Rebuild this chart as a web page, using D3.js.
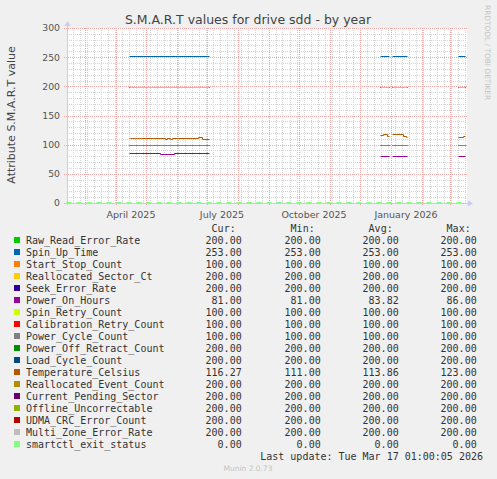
<!DOCTYPE html>
<html>
<head>
<meta charset="utf-8">
<script src="https://cdn.jsdelivr.net/npm/d3@7"></script>
<style>
  body { margin: 0; background: #f0f0f0; }
  svg text { font-family: "DejaVu Sans", sans-serif; }
  svg .mono { font-family: "DejaVu Sans Mono", monospace; font-size: 10px; fill: #333; }
</style>
</head>
<body>
<div id="chart"></div>
<script>
// legend / series
const names = ["Raw_Read_Error_Rate", "Spin_Up_Time", "Start_Stop_Count", "Reallocated_Sector_Ct",
  "Seek_Error_Rate", "Power_On_Hours", "Spin_Retry_Count", "Calibration_Retry_Count",
  "Power_Cycle_Count", "Power_Off_Retract_Count", "Load_Cycle_Count", "Temperature_Celsius",
  "Reallocated_Event_Count", "Current_Pending_Sector", "Offline_Uncorrectable",
  "UDMA_CRC_Error_Count", "Multi_Zone_Error_Rate", "smartctl_exit_status"];
const colors = ["#00cc00", "#0066b3", "#ff8000", "#ffcc00", "#330099", "#990099", "#ccff00", "#ff0000",
  "#808080", "#008f00", "#00487d", "#b35a00", "#b38f00", "#6b006b", "#8fb300", "#b30000",
  "#bebebe", "#80ff80"];
const curValues = [200, 253, 100, 200, 200, 81, 100, 100, 100, 200, 200, 116.27, 200, 200, 200, 200, 200, 0];
const minValues = [200, 253, 100, 200, 200, 81, 100, 100, 100, 200, 200, 111, 200, 200, 200, 200, 200, 0];
const avgValues = [200, 253, 100, 200, 200, 83.82, 100, 100, 100, 200, 200, 113.86, 200, 200, 200, 200, 200, 0];
const maxValues = [200, 253, 100, 200, 200, 86, 100, 100, 100, 200, 200, 123, 200, 200, 200, 200, 200, 0];

// series that stay flat: level drawn over the periods with data (null = own point list)
const flatLevels = [200, 253, 100, 200, 200, null, 100, 100, 100, 200, 200, null, 200, 200, 200, 200, 200, null];
const dataPeriods = [
  ["2025-04-15", "2025-07-04"],
  ["2025-12-22", "2025-12-31"],
  ["2026-01-03", "2026-01-18"],
  ["2026-03-10", "2026-03-17"]
];
const powerOnHours = [
  ["2025-04-15", 86], ["2025-05-16", 84], ["2025-05-30", 86], ["2025-07-04", 86], ["2025-07-05", null],
  ["2025-12-22", 82], ["2025-12-31", 82], ["2026-01-01", null],
  ["2026-01-03", 81], ["2026-01-18", 81], ["2026-01-19", null],
  ["2026-03-10", 81], ["2026-03-17", 81]
];
const temperature = [
  ["2025-04-15", 112], ["2025-04-16", 113], ["2025-04-18", 112], ["2025-04-21", 113], ["2025-04-23", 112],
  ["2025-04-25", 113], ["2025-04-27", 112], ["2025-05-09", 113], ["2025-05-21", 111], ["2025-05-23", 113],
  ["2025-05-26", 111], ["2025-05-28", 113], ["2025-06-23", 114], ["2025-06-27", 111], ["2025-07-04", 111],
  ["2025-07-05", null],
  ["2025-12-22", 117], ["2025-12-25", 119], ["2025-12-29", 116], ["2025-12-31", 116], ["2026-01-01", null],
  ["2026-01-03", 119], ["2026-01-14", 116], ["2026-01-17", 114], ["2026-01-18", 114], ["2026-01-19", null],
  ["2026-03-10", 114], ["2026-03-15", 116], ["2026-03-17", 116]
];
const exitStatus = [["2025-02-11", 0], ["2026-03-18", 0]];

const yTicks = [0, 50, 100, 150, 200, 250, 300];
const yMinor = [10, 20, 30, 40, 60, 70, 80, 90, 110, 120, 130, 140, 160, 170, 180, 190,
  210, 220, 230, 240, 260, 270, 280, 290];

const margin = {top: 28, left: 67};
const plotW = 400, plotH = 175;
const start = new Date(Date.UTC(2025, 1, 11, 12));
const end = new Date(Date.UTC(2026, 2, 18, 12));
const parse = d3.utcParse("%Y-%m-%d");

const svg = d3.select("#chart").append("svg")
    .attr("width", 497)
    .attr("height", 479);

const x = d3.scaleUtc().domain([start, end]).range([0, plotW]);
const y = d3.scaleLinear().domain([0, 300]).range([plotH, 0]);
// pixel-snapped copies, rrdtool draws its grid on whole pixels
const xGrid = x.copy().interpolate(d3.interpolateRound);
const yGrid = y.copy().interpolate(d3.interpolateRound);

const g = svg.append("g")
    .attr("transform", "translate(" + margin.left + "," + margin.top + ")");

g.append("rect").attr("width", plotW).attr("height", plotH).attr("fill", "#ffffff");

// minor grid
const minorColor = "#d4d4d4", majorColor = "#f2a6a6";
g.append("g")
    .call(d3.axisLeft(yGrid).tickValues(yMinor).tickSize(-plotW).tickFormat(""))
    .call(a => a.select(".domain").remove())
    .selectAll("line").attr("stroke", minorColor).attr("stroke-dasharray", "1,1");
g.append("g")
    .call(d3.axisBottom(xGrid).tickValues(d3.utcMonday.range(start, end)).tickSize(plotH).tickFormat(""))
    .call(a => a.select(".domain").remove())
    .selectAll("line").attr("stroke", minorColor).attr("stroke-dasharray", "1,1");

// major grid
g.append("g")
    .attr("transform", "translate(-3,0)")
    .call(d3.axisLeft(yGrid).tickValues(yTicks).tickSize(-(plotW + 3)).tickFormat(""))
    .call(a => a.select(".domain").remove())
    .selectAll("line").attr("stroke", majorColor).attr("stroke-dasharray", "1,1");
g.append("g")
    .call(d3.axisBottom(xGrid).tickValues(d3.utcMonth.range(start, end)).tickSize(plotH + 3).tickFormat(""))
    .call(a => a.select(".domain").remove())
    .selectAll("line").attr("stroke", majorColor).attr("stroke-dasharray", "1,1");

// tick labels
g.append("g")
    .call(d3.axisLeft(y).tickValues(yTicks).tickSize(0).tickPadding(7))
    .call(a => a.select(".domain").remove())
    .selectAll("text")
    .attr("font-family", "DejaVu Sans").attr("font-size", "9.3px").attr("fill", "#555");

const labelMonths = d3.utcMonth.every(3).range(start, end).map(d => d3.utcDay.offset(d, 15));
g.append("g")
    .attr("transform", "translate(0," + plotH + ")")
    .call(d3.axisBottom(x).tickValues(labelMonths).tickSize(0).tickPadding(8)
        .tickFormat(d3.utcFormat("%B %Y")))
    .call(a => a.select(".domain").remove())
    .selectAll("text")
    .attr("font-family", "DejaVu Sans").attr("font-size", "9.5px").attr("fill", "#555");

// axis lines with arrows
const axisColor = "#c6cdf5";
g.append("line").attr("x1", 0.5).attr("x2", 0.5).attr("y1", plotH + 2).attr("y2", -3)
    .attr("stroke", axisColor);
g.append("line").attr("x1", -2).attr("x2", plotW + 2).attr("y1", plotH + 0.5).attr("y2", plotH + 0.5)
    .attr("stroke", axisColor);
g.append("path").attr("d", "M-2.5,-2L0.5,-7L3.5,-2Z").attr("fill", axisColor);
g.append("path").attr("d", "M" + (plotW + 1) + "," + (plotH - 2.5) + "L" + (plotW + 6) + "," + (plotH + 0.5) +
    "L" + (plotW + 1) + "," + (plotH + 3.5) + "Z").attr("fill", axisColor);

// series, each line on one whole pixel row
const line = d3.line()
    .defined(d => d[1] != null)
    .x(d => x(parse(d[0])))
    .y(d => Math.ceil(y(d[1]) - 0.01) + 0.5)
    .curve(d3.curveStepAfter);

function flatPoints(level) {
  const pts = [];
  dataPeriods.forEach(p => {
    pts.push([p[0], level], [p[1], level], [d3.utcFormat("%Y-%m-%d")(d3.utcDay.offset(parse(p[1]), 1)), null]);
  });
  return pts;
}

names.forEach((name, i) => {
  let pts;
  const isExit = name === "smartctl_exit_status";
  if (name === "Power_On_Hours") pts = powerOnHours;
  else if (name === "Temperature_Celsius") pts = temperature;
  else if (isExit) pts = exitStatus;
  else pts = flatPoints(flatLevels[i]);
  g.append("path")
      .attr("d", line(pts))
      .attr("fill", "none")
      .attr("stroke", colors[i])
      .attr("stroke-width", isExit ? 2 : 1)
      .attr("stroke-dasharray", isExit ? "5,5" : null)
      .attr("transform", isExit ? "translate(0,-0.5)" : null);
});

// title and side texts
svg.append("text")
    .attr("x", 248).attr("y", 24)
    .attr("text-anchor", "middle")
    .attr("font-size", "12.5px").attr("fill", "#444")
    .text("S.M.A.R.T values for drive sdd - by year");
svg.append("text")
    .attr("transform", "translate(15,115) rotate(-90)")
    .attr("text-anchor", "middle")
    .attr("font-size", "11px").attr("fill", "#444")
    .text("Attribute S.M.A.R.T value");
svg.append("text")
    .attr("transform", "translate(485,5) rotate(90)")
    .attr("font-size", "7.4px").attr("fill", "#c4c4c4")
    .text("RRDTOOL / TOBI OETIKER");

// legend
const colRight = [241.7, 320.7, 398.7, 476.7];
const headers = ["Cur:", "Min:", "Avg:", "Max:"];
const fmt = d3.format(".2f");
headers.forEach((h, j) => {
  svg.append("text").attr("class", "mono")
      .attr("x", colRight[j] - 6).attr("y", 228).attr("dy", "0.35em")
      .attr("text-anchor", "end").text(h);
});
const rows = svg.append("g").selectAll("g").data(names).join("g")
    .attr("transform", (d, i) => "translate(0," + (240 + i * 12) + ")");
rows.append("rect").attr("x", 14).attr("y", -3).attr("width", 6).attr("height", 6)
    .attr("fill", (d, i) => colors[i]);
rows.append("text").attr("class", "mono").attr("x", 26).attr("dy", "0.35em").text(d => d);
[curValues, minValues, avgValues, maxValues].forEach((vals, j) => {
  rows.append("text").attr("class", "mono")
      .attr("x", colRight[j]).attr("dy", "0.35em").attr("text-anchor", "end")
      .text((d, i) => fmt(vals[i]));
});

svg.append("text").attr("class", "mono")
    .attr("x", 483).attr("y", 456).attr("dy", "0.35em").attr("text-anchor", "end")
    .text("Last update: Tue Mar 17 01:00:05 2026");
svg.append("text")
    .attr("x", 248).attr("y", 468).attr("dy", "0.35em").attr("text-anchor", "middle")
    .attr("font-size", "7.5px").attr("fill", "#c4c4c4")
    .text("Munin 2.0.73");
</script>
</body>
</html>
